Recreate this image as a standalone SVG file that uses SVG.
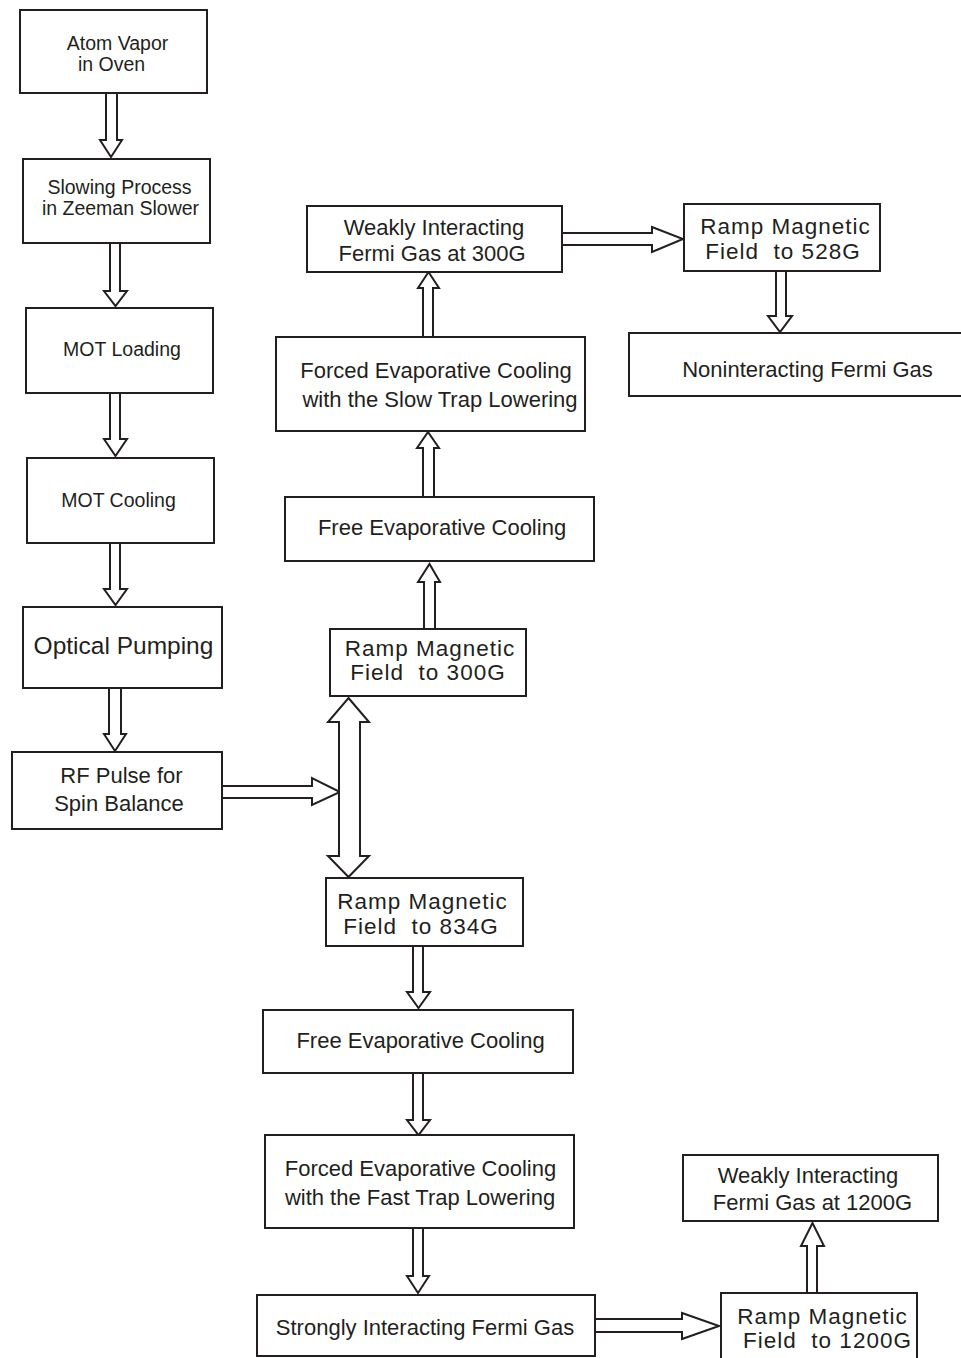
<svg xmlns="http://www.w3.org/2000/svg" width="961" height="1358" viewBox="0 0 961 1358">
<style>
rect.box{fill:#fff;stroke:#231f20;stroke-width:2}
.arr{fill:#fff;stroke:#231f20;stroke-width:2;stroke-linejoin:miter}
text{font-family:"Liberation Sans",Arial,sans-serif;fill:#231f20;text-anchor:middle}
.s19{font-size:19.5px}
.s22{font-size:22px}
.s24{font-size:24.5px}
.rm{font-size:22.5px;letter-spacing:1px}
</style>
<rect width="961" height="1358" fill="#fff"/>
<g id="connectors">
<polygon class="arr" points="106,93 117,93 117,140 122,140 111,157 100,140 106,140"/>
<polygon class="arr" points="110,243 120,243 120,291 127,291 115.5,306 104,291 110,291"/>
<polygon class="arr" points="110,393 120,393 120,439 127,439 115.5,456 104,439 110,439"/>
<polygon class="arr" points="110,543 120,543 120,589 127,589 115.5,605 104,589 110,589"/>
<polygon class="arr" points="109,688 121,688 121,734 126,734 115,751 104,734 109,734"/>
<polygon class="arr" points="222,786 312,786 312,778 340,792 312,805 312,798 222,798"/>
<polygon class="arr" points="348.5,698 369,722 360,722 360,856 369,856 348.5,877 328,856 339,856 339,722 328,722"/>
<polygon class="arr" points="424,629 435,629 435,582 440,582 429.5,564 418,582 424,582"/>
<polygon class="arr" points="423,497 434,497 434,448 439,448 428,432 417,448 423,448"/>
<polygon class="arr" points="423,337 433,337 433,288 439,288 428.5,272 418,288 423,288"/>
<polygon class="arr" points="562,233 652,233 652,227 683,239 652,252 652,245 562,245"/>
<polygon class="arr" points="776,271 786,271 786,316 792,316 780,332 768,316 776,316"/>
<polygon class="arr" points="413,946 423,946 423,992 430,992 418.5,1008 407,992 413,992"/>
<polygon class="arr" points="413,1073 423,1073 423,1120 430,1120 418.5,1135 407,1120 413,1120"/>
<polygon class="arr" points="413,1228 423,1228 423,1276 429,1276 418,1293 407,1276 413,1276"/>
<polygon class="arr" points="595,1319 682,1319 682,1313 719,1326 682,1339 682,1332 595,1332"/>
<polygon class="arr" points="807,1293 817,1293 817,1246 824,1246 812.5,1223 801,1246 807,1246"/>
</g>
<g id="n1"><rect class="box" x="20" y="10" width="187" height="83"/><text class="s19" x="117.5" y="50">Atom Vapor</text><text class="s19" x="111.5" y="71">in Oven</text></g>
<g id="n2"><rect class="box" x="23" y="159" width="187" height="84"/><text class="s19" x="119.5" y="194">Slowing Process</text><text class="s19" x="120.5" y="215">in Zeeman Slower</text></g>
<g id="n3"><rect class="box" x="26" y="308" width="187" height="85"/><text class="s19" x="122" y="356">MOT Loading</text></g>
<g id="n4"><rect class="box" x="27" y="458" width="187" height="85"/><text class="s19" x="118.5" y="507">MOT Cooling</text></g>
<g id="n5"><rect class="box" x="23" y="607" width="199" height="81"/><text class="s24" x="123.5" y="654">Optical Pumping</text></g>
<g id="n6"><rect class="box" x="12" y="752" width="210" height="77"/><text class="s22" x="121.5" y="783">RF Pulse for</text><text class="s22" x="119" y="811">Spin Balance</text></g>
<g id="n7"><rect class="box" x="330" y="629" width="196" height="67"/><text class="rm" x="430" y="656">Ramp Magnetic</text><text class="rm" x="428" y="680" xml:space="preserve">Field  to 300G</text></g>
<g id="n8"><rect class="box" x="285" y="497" width="309" height="64"/><text class="s22" x="442" y="535">Free Evaporative Cooling</text></g>
<g id="n9"><rect class="box" x="276" y="337" width="309" height="94"/><text class="s22" x="436" y="378">Forced Evaporative Cooling</text><text class="s22" x="440" y="407">with the Slow Trap Lowering</text></g>
<g id="n10"><rect class="box" x="307" y="206" width="255" height="66"/><text class="s22" x="434" y="235">Weakly Interacting</text><text class="s22" x="432" y="261">Fermi Gas at 300G</text></g>
<g id="n11"><rect class="box" x="684" y="204" width="196" height="67"/><text class="rm" x="785.5" y="234">Ramp Magnetic</text><text class="rm" x="783" y="259" xml:space="preserve">Field  to 528G</text></g>
<g id="n12"><rect class="box" x="629" y="333" width="334" height="63"/><text class="s22" x="807.5" y="377">Noninteracting Fermi Gas</text></g>
<g id="n13"><rect class="box" x="326" y="878" width="197" height="68"/><text class="rm" x="422.5" y="909">Ramp Magnetic</text><text class="rm" x="421" y="934" xml:space="preserve">Field  to 834G</text></g>
<g id="n14"><rect class="box" x="263" y="1010" width="310" height="63"/><text class="s22" x="420.5" y="1048">Free Evaporative Cooling</text></g>
<g id="n15"><rect class="box" x="265" y="1135" width="309" height="93"/><text class="s22" x="420.5" y="1176">Forced Evaporative Cooling</text><text class="s22" x="420" y="1205">with the Fast Trap Lowering</text></g>
<g id="n16"><rect class="box" x="257" y="1295" width="338" height="61"/><text class="s22" x="425" y="1335">Strongly Interacting Fermi Gas</text></g>
<g id="n17"><rect class="box" x="721" y="1293" width="196" height="70"/><text class="rm" x="822.5" y="1324">Ramp Magnetic</text><text class="rm" x="827.5" y="1348" xml:space="preserve">Field  to 1200G</text></g>
<g id="n18"><rect class="box" x="683" y="1155" width="255" height="66"/><text class="s22" x="808" y="1183">Weakly Interacting</text><text class="s22" x="812.5" y="1210">Fermi Gas at 1200G</text></g>
</svg>
